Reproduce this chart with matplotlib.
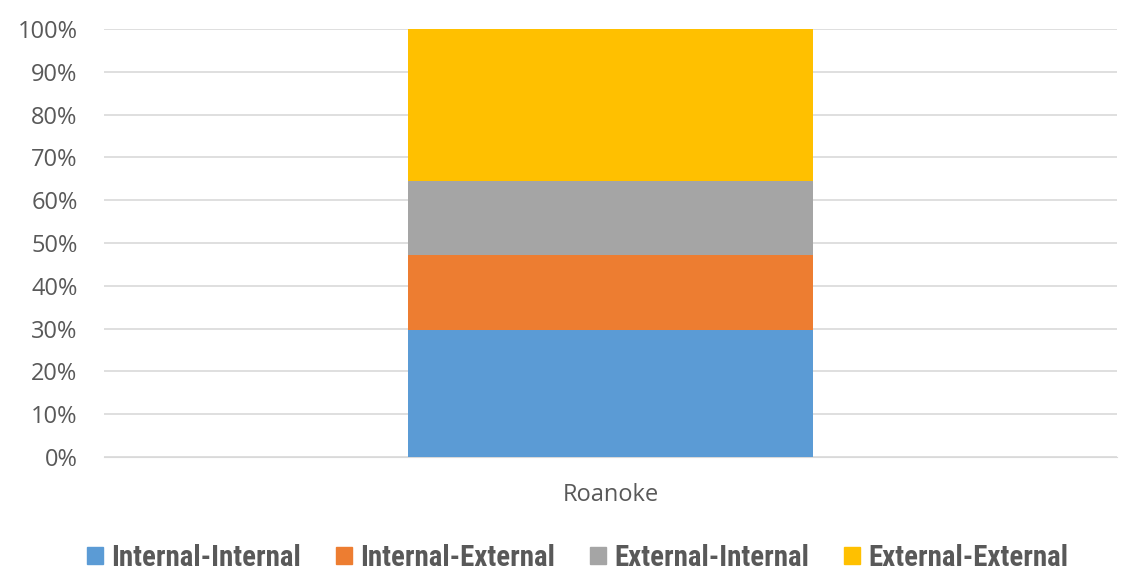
import matplotlib
matplotlib.use('Agg')
from matplotlib import pyplot as plt
from matplotlib import font_manager
from matplotlib.patches import Patch

categories = ['Roanoke']
series_names = ['Internal-Internal', 'Internal-External', 'External-Internal', 'External-External']
series_values = [[29.6], [17.5], [17.3], [35.6]]
colors = ['#5B9BD5', '#ED7D31', '#A5A5A5', '#FFC000']
y_ticks = list(range(0, 101, 10))

# condensed font for the legend if there is one, otherwise a smaller Roboto
installed = set(f.name for f in font_manager.fontManager.ttflist)
legend_font, legend_size = 'Roboto', 15.5
for name in ['Liberation Sans Narrow', 'Roboto Condensed', 'DejaVu Sans Condensed']:
    if name in installed:
        legend_font, legend_size = name, 20.8
        break

fig = plt.figure(figsize=(11.24, 5.73), dpi=100)
ax = fig.add_axes([104 / 1124, 1 - 457 / 573, (1117 - 104) / 1124, 428 / 573])

bottom = [0] * len(categories)
for name, vals, c in zip(series_names, series_values, colors):
    ax.bar(range(len(categories)), vals, width=0.4, bottom=bottom, color=c, label=name, zorder=3)
    bottom = [b + v for b, v in zip(bottom, vals)]

ax.set_xlim(-0.5, len(categories) - 0.5)
ax.set_ylim(0, 100)
ax.set_yticks(y_ticks)
ax.set_yticklabels(['{}%'.format(t) for t in y_ticks])
ax.set_xticks(range(len(categories)))
ax.set_xticklabels(categories)
ax.grid(axis='y', color='#D9D9D9', linewidth=1.2, zorder=0)
for s in ['top', 'right', 'left']:
    ax.spines[s].set_visible(False)
ax.spines['bottom'].set_color('#D9D9D9')
ax.tick_params(axis='both', length=0, colors='#595959', labelsize=17, labelfontfamily='Open Sans')
ax.tick_params(axis='y', pad=19)
ax.tick_params(axis='x', pad=19)

handles = [Patch(color=c) for c in colors]
fig.legend(handles, series_names, loc='center', bbox_to_anchor=(577.5 / 1124, 1 - 558 / 573), ncol=4,
           frameon=False, prop={'family': legend_font, 'size': legend_size, 'weight': 'bold'},
           labelcolor='#595959', handlelength=0.55, handleheight=0.55, handletextpad=0.3, columnspacing=1.2)

fig.savefig('out.png', dpi=100)
